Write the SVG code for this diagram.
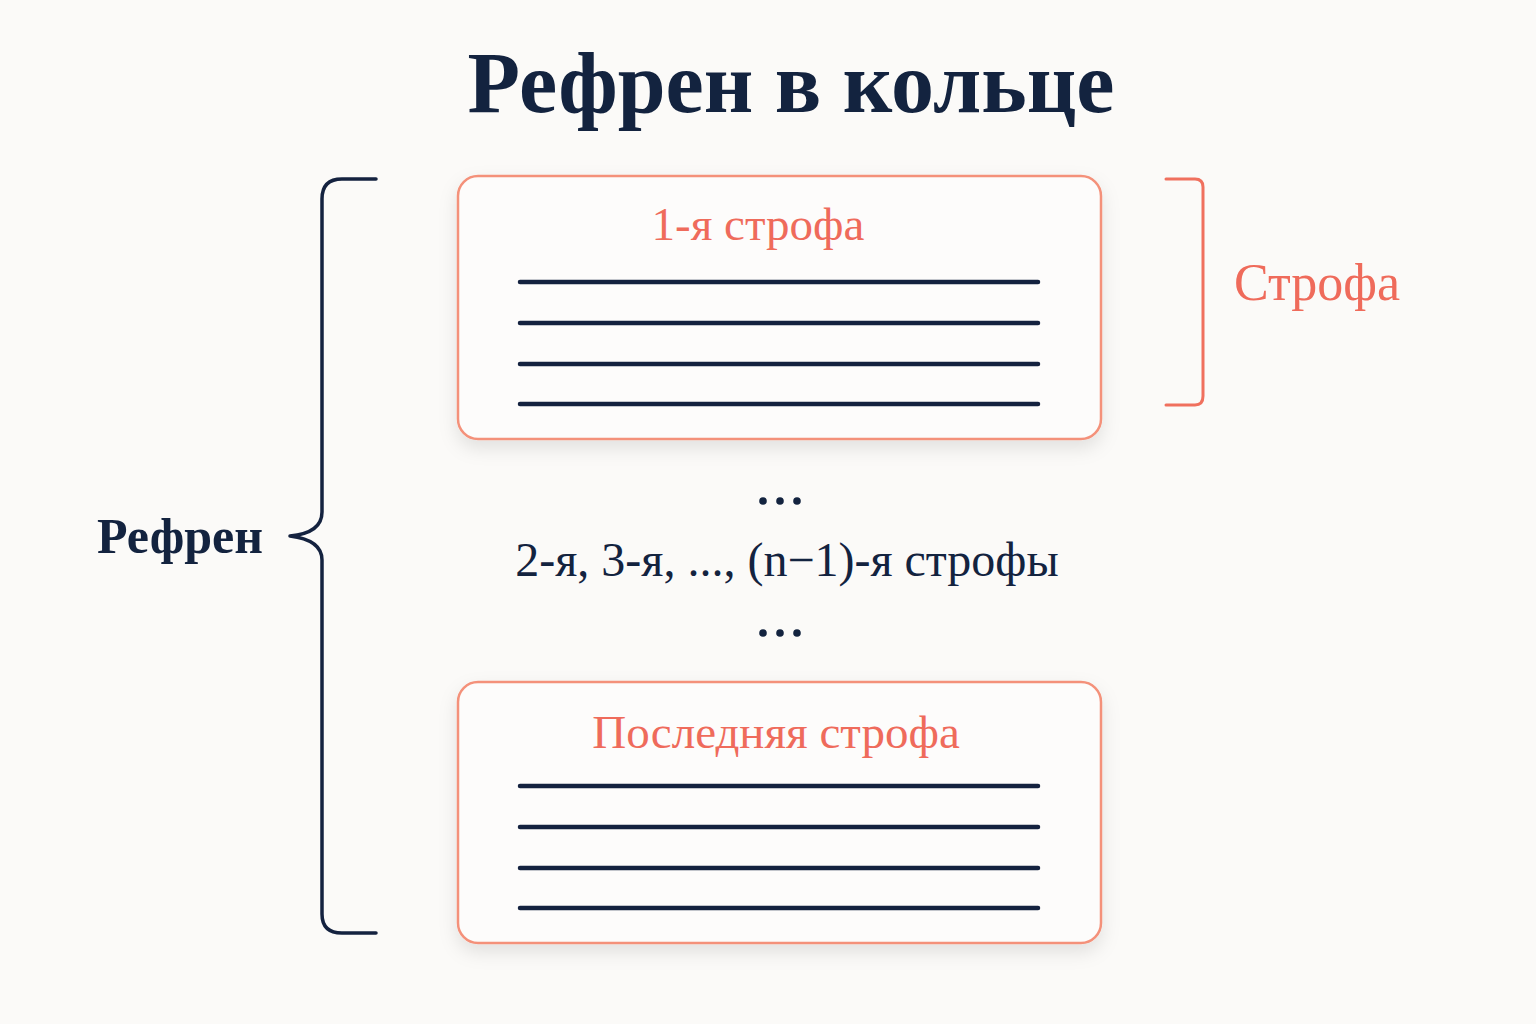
<svg xmlns="http://www.w3.org/2000/svg" width="1536" height="1024" viewBox="0 0 1536 1024">
<defs>
<filter id="sh" x="-10%" y="-10%" width="120%" height="130%">
<feDropShadow dx="0" dy="8" stdDeviation="9" flood-color="#000000" flood-opacity="0.10"/>
</filter>
<style>
.box{fill:#FDFCFB;stroke:#F4917A;stroke-width:2.5}
.ln{stroke:#14223F;stroke-width:4.5;stroke-linecap:round}
.navy{fill:#13233F;font-family:"Liberation Serif","DejaVu Serif",serif}
.coral{fill:#EF6B5B;font-family:"Liberation Serif","DejaVu Serif",serif}
.brace{fill:none;stroke:#14223F;stroke-width:3.5;stroke-linecap:round;stroke-linejoin:round}
.bracket{fill:none;stroke:#F0705E;stroke-width:3;stroke-linecap:round;stroke-linejoin:round}
</style>
</defs>
<rect width="1536" height="1024" fill="#FBFAF8"/>
<g id="title">
<text class="navy" x="791" y="112" font-size="86" font-weight="bold" text-anchor="middle">Рефрен в кольце</text>
</g>
<g id="stanza1">
<rect class="box" x="458" y="176" width="643" height="263" rx="20" filter="url(#sh)"/>
<text class="coral" x="758" y="240" font-size="47" text-anchor="middle">1-я строфа</text>
<line class="ln" x1="520" y1="282" x2="1038" y2="282"/>
<line class="ln" x1="520" y1="323" x2="1038" y2="323"/>
<line class="ln" x1="520" y1="364" x2="1038" y2="364"/>
<line class="ln" x1="520" y1="404" x2="1038" y2="404"/>
</g>
<g id="middle">
<circle cx="763" cy="501" r="3.8" fill="#13233F"/>
<circle cx="780" cy="501" r="3.8" fill="#13233F"/>
<circle cx="797" cy="501" r="3.8" fill="#13233F"/>
<text class="navy" x="787" y="576" font-size="48" text-anchor="middle">2-я, 3-я, ..., (n−1)-я строфы</text>
<circle cx="763" cy="633" r="3.8" fill="#13233F"/>
<circle cx="780" cy="633" r="3.8" fill="#13233F"/>
<circle cx="797" cy="633" r="3.8" fill="#13233F"/>
</g>
<g id="stanzaLast">
<rect class="box" x="458" y="682" width="643" height="261" rx="20" filter="url(#sh)"/>
<text class="coral" x="776" y="748" font-size="47" text-anchor="middle">Последняя строфа</text>
<line class="ln" x1="520" y1="786" x2="1038" y2="786"/>
<line class="ln" x1="520" y1="827" x2="1038" y2="827"/>
<line class="ln" x1="520" y1="868" x2="1038" y2="868"/>
<line class="ln" x1="520" y1="908" x2="1038" y2="908"/>
</g>
<g id="connectors">
<path class="brace" d="M376,179 L342,179 Q322,179 322,199 L322,512 Q322,533 290,536 Q322,540 322,560 L322,914 Q322,933 342,933 L376,933"/>
<path class="bracket" d="M1166,179 L1195,179 Q1203,179 1203,187 L1203,396 Q1203,405 1195,405 L1166,405"/>
</g>
<g id="refrainLabel">
<text class="navy" x="180" y="553" font-size="50" font-weight="bold" text-anchor="middle">Рефрен</text>
</g>
<g id="stanzaLabel">
<text class="coral" x="1317" y="300" font-size="52" text-anchor="middle">Строфа</text>
</g>
</svg>
